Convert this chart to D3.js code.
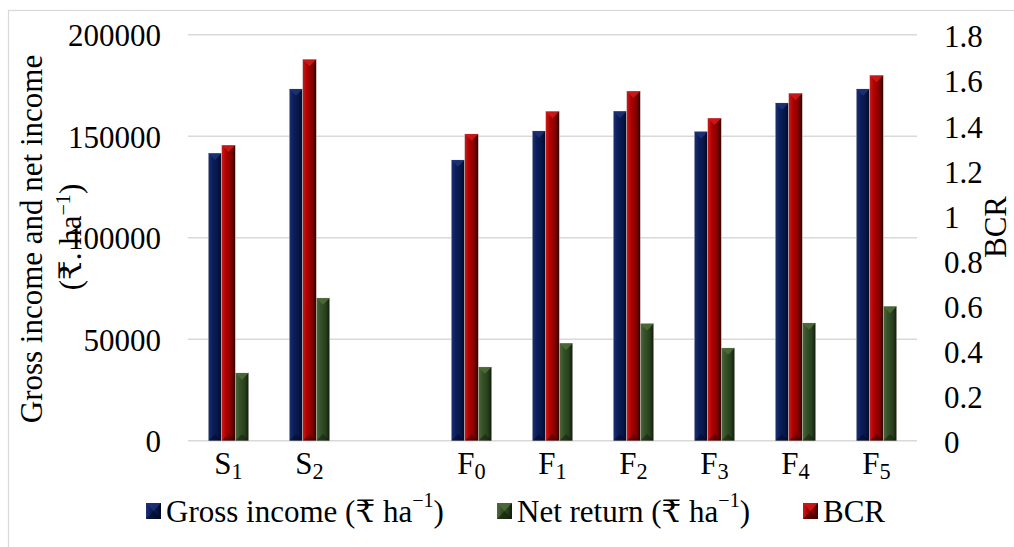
<!DOCTYPE html>
<html>
<head>
<meta charset="utf-8">
<script src="https://cdn.jsdelivr.net/npm/d3@7/dist/d3.min.js"></script>
<style>
  html, body { margin: 0; padding: 0; background: #fff; }
  svg { display: block; }
  text { font-family: "Liberation Serif", "Times New Roman", "DejaVu Serif", serif; fill: #000; }
</style>
</head>
<body>
<svg id="chart" width="1014" height="547"></svg>
<script>
// Treatments (main symbol + subscript); the empty slot separates the S and F groups
const catMain = ["S", "S", "", "F", "F", "F", "F", "F", "F"];
const catSub  = ["1", "2", "", "0", "1", "2", "3", "4", "5"];

// Gross income (₹ ha⁻¹)
const grossIncome = [141600, 173300, null, 138300, 152600, 162300, 152300, 166400, 173300];
// Net return (₹ ha⁻¹)
const netReturn   = [33400, 70300, null, 36300, 48000, 57700, 45700, 58000, 66200];
// Benefit–cost ratio
const bcr         = [1.31, 1.69, null, 1.36, 1.46, 1.55, 1.43, 1.54, 1.62];

const leftTicks  = [0, 50000, 100000, 150000, 200000];
const rightTicks = [0, 0.2, 0.4, 0.6, 0.8, 1, 1.2, 1.4, 1.6, 1.8];

const svg = d3.select("#chart");
const FS = 31;

// chart frame
svg.append("rect")
  .attr("x", 8.5).attr("y", 10.5).attr("width", 1020).attr("height", 545)
  .attr("fill", "#fff").attr("stroke", "#d9d9d9").attr("stroke-width", 1.2);

const plot = { left: 188, right: 917, top: 34.8, bottom: 440.8 };

const x = d3.scaleBand()
  .domain(d3.range(catMain.length))
  .range([plot.left, plot.right])
  .paddingInner(0).paddingOuter(0);

const yL = d3.scaleLinear().domain([0, 200000]).range([plot.bottom, plot.top]);
const yR = d3.scaleLinear().domain([0, 1.8]).range([plot.bottom, plot.top]);

// gradients giving the bevelled bar look
const defs = svg.append("defs");
const palettes = {
  gross: ["#1d3275", "#0c1f5c", "#071648", "#010820"],
  bcr:   ["#cc1a1a", "#b00000", "#840000", "#2e0000"],
  net:   ["#4d6b38", "#37522a", "#27401d", "#101a0a"]
};
Object.entries(palettes).forEach(([k, c]) => {
  const g = defs.append("linearGradient").attr("id", "g-" + k)
    .attr("x1", "0%").attr("x2", "100%").attr("y1", "0%").attr("y2", "0%");
  g.append("stop").attr("offset", "0%").attr("stop-color", c[0]);
  g.append("stop").attr("offset", "30%").attr("stop-color", c[1]);
  g.append("stop").attr("offset", "70%").attr("stop-color", c[2]);
  g.append("stop").attr("offset", "100%").attr("stop-color", c[3]);
});

// horizontal gridlines
svg.append("g").selectAll("line").data(leftTicks).join("line")
  .attr("x1", plot.left).attr("x2", plot.right)
  .attr("y1", d => yL(d)).attr("y2", d => yL(d))
  .attr("stroke", "#d9d9d9").attr("stroke-width", 1.5);

// left axis labels
svg.append("g").selectAll("text").data(leftTicks).join("text")
  .attr("x", 161).attr("y", d => yL(d) + 1)
  .attr("text-anchor", "end").attr("dominant-baseline", "central")
  .attr("font-size", FS)
  .text(d => d);

// right axis labels
svg.append("g").selectAll("text").data(rightTicks).join("text")
  .attr("x", 944).attr("y", d => yR(d) + 2)
  .attr("text-anchor", "start").attr("dominant-baseline", "central")
  .attr("font-size", FS)
  .text(d => d3.format("~g")(d));

// bars
const bw = x.bandwidth() / 6;
const series = [
  { key: "gross", vals: grossIncome, scale: yL },
  { key: "bcr",   vals: bcr,         scale: yR },
  { key: "net",   vals: netReturn,   scale: yL }
];
const barG = svg.append("g");
series.forEach((s, si) => {
  const items = s.vals.map((v, i) => ({ v, i })).filter(d => d.v != null);
  const gx = d => x(d.i) + x.bandwidth() / 2 - 1.5 * bw + si * bw;
  barG.append("g").selectAll("rect").data(items).join("rect")
    .attr("x", gx)
    .attr("y", d => s.scale(d.v))
    .attr("width", bw)
    .attr("height", d => plot.bottom - s.scale(d.v))
    .attr("fill", `url(#g-${s.key})`)
    .attr("stroke", "#c8c8c8").attr("stroke-width", 0.5);
  // top bevel
  barG.append("g").selectAll("path").data(items).join("path")
    .attr("d", d => {
      const x0 = gx(d), y0 = s.scale(d.v);
      return `M${x0},${y0}L${x0 + bw},${y0}L${x0 + bw / 2},${y0 + bw / 2}Z`;
    })
    .attr("fill", palettes[s.key][0]).attr("opacity", 0.9);
  // bottom bevel
  barG.append("g").selectAll("path").data(items).join("path")
    .attr("d", d => {
      const x0 = gx(d), y0 = plot.bottom;
      return `M${x0},${y0}L${x0 + bw},${y0}L${x0 + bw / 2},${y0 - bw / 2}Z`;
    })
    .attr("fill", palettes[s.key][3]).attr("opacity", 0.5);
});

// category labels with subscripts
const xl = svg.append("g").selectAll("text").data(catMain.map((m, i) => ({ m, s: catSub[i], i })).filter(d => d.m))
  .join("text")
  .attr("x", d => x(d.i) + x.bandwidth() / 2)
  .attr("y", 474)
  .attr("text-anchor", "middle")
  .attr("font-size", FS);
xl.append("tspan").text(d => d.m);
xl.append("tspan").attr("dy", 5).attr("font-size", FS * 0.72).text(d => d.s);

// left axis title (two lines)
svg.append("text")
  .attr("transform", "translate(42,239) rotate(-90)")
  .attr("text-anchor", "middle").attr("font-size", FS)
  .text("Gross income and net income");
const tL2 = svg.append("text")
  .attr("transform", "translate(81,237) rotate(-90)")
  .attr("text-anchor", "middle").attr("font-size", FS);
tL2.append("tspan").text("(₹. ha");
tL2.append("tspan").attr("dy", -11).attr("font-size", FS * 0.65).text("−1");
tL2.append("tspan").attr("dy", 11).text(")");

// right axis title
svg.append("text")
  .attr("transform", "translate(1006,227) rotate(-90)")
  .attr("text-anchor", "middle").attr("font-size", FS)
  .text("BCR");

// legend
const legend = [
  { key: "gross", label: "Gross income (₹ ha", sup: "−1", close: ")", x: 146 },
  { key: "net",   label: "Net return (₹ ha",   sup: "−1", close: ")", x: 497 },
  { key: "bcr",   label: "BCR", sup: null, x: 803 }
];
const lg = svg.append("g").selectAll("g").data(legend).join("g")
  .attr("transform", d => `translate(${d.x},503)`);
lg.append("rect").attr("width", 15).attr("height", 16)
  .attr("fill", d => `url(#g-${d.key})`);
lg.append("path").attr("d", "M0,0L15,0L7.5,8Z")
  .attr("fill", d => palettes[d.key][0]).attr("opacity", 0.9);
lg.append("path").attr("d", "M0,16L15,16L7.5,8Z")
  .attr("fill", d => palettes[d.key][3]).attr("opacity", 0.6);
const lt = lg.append("text").attr("x", 20).attr("y", 8)
  .attr("dominant-baseline", "central").attr("font-size", FS);
lt.append("tspan").text(d => d.label);
lt.filter(d => d.sup).append("tspan").attr("dy", -11).attr("font-size", FS * 0.65).text(d => d.sup);
lt.filter(d => d.sup).append("tspan").attr("dy", 11).text(d => d.close);
</script>
</body>
</html>
